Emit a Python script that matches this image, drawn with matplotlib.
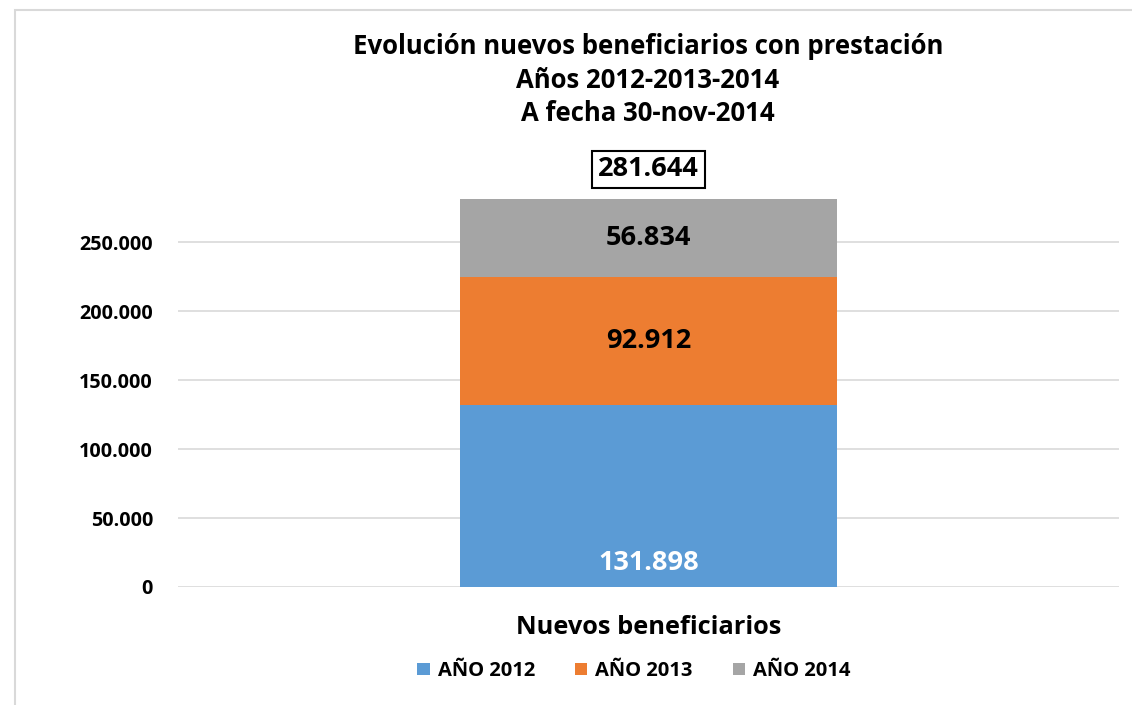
import matplotlib.pyplot as plt
from matplotlib.patches import Rectangle

category = "Nuevos beneficiarios"
series = ["AÑO 2012", "AÑO 2013", "AÑO 2014"]
values = [131898, 92912, 56834]
colors = ["#5B9BD5", "#ED7D31", "#A5A5A5"]
yticks = [0, 50000, 100000, 150000, 200000, 250000]

plt.rcParams['font.family'] = ['Open Sans', 'DejaVu Sans']

def fmt(v):
    return f"{v:,}".replace(",", ".")

W, H = 1132, 705
fig = plt.figure(figsize=(W / 100, H / 100), dpi=100)
ax = fig.add_axes([178 / W, 1 - 587 / H, (1119 - 178) / W, (587 - 194) / H])

# outer chart border (light grey)
fig.patches.append(Rectangle((15 / W, -0.1), 1.2, (1 - 10 / H) + 0.1,
                             transform=fig.transFigure, fill=False,
                             edgecolor="#D9D9D9", linewidth=1.5))

bottom = 0
for name, v, c in zip(series, values, colors):
    ax.bar([0], [v], bottom=bottom, width=0.4, color=c, label=name, zorder=3)
    bottom += v

ax.set_xlim(-0.5, 0.5)
ax.set_ylim(0, 285000)
ax.set_yticks(yticks)
ax.set_yticklabels([fmt(t) for t in yticks], fontsize=14.2, fontweight="bold")
ax.tick_params(axis="y", length=0, pad=18)
ax.set_xticks([0])
ax.set_xticklabels([category], fontsize=18.3, fontweight="bold")
ax.tick_params(axis="x", length=0, pad=20)
for s in ax.spines.values():
    s.set_visible(False)
ax.yaxis.grid(True, color="#D9D9D9", linewidth=1.2, zorder=0)
ax.set_axisbelow(True)

# data labels
ax.annotate(fmt(values[0]), (0, 0), xytext=(0, 8), textcoords="offset points",
            ha="center", va="bottom", fontsize=19.5, fontweight="bold", color="white")
cum = values[0]
for v in values[1:]:
    ax.text(0, cum + v / 2, fmt(v), ha="center", va="center",
            fontsize=19.5, fontweight="bold", color="black")
    cum += v

total = sum(values)
ax.annotate(fmt(total), (0, total), xytext=(0, 21), textcoords="offset points",
            ha="center", va="center", fontsize=19.5, fontweight="bold",
            annotation_clip=False,
            bbox=dict(boxstyle="square,pad=0.22", facecolor="white",
                      edgecolor="black", linewidth=1.5))

fig.text(648 / W, 1 - 80 / H,
         "Evolución nuevos beneficiarios con prestación\nAños 2012-2013-2014\nA fecha 30-nov-2014",
         ha="center", va="center", fontsize=18.5, fontweight="bold", linespacing=1.32)

fig.legend(loc="center", bbox_to_anchor=(634 / W, 1 - 671 / H), ncol=3,
           frameon=False, prop={"size": 14.5, "weight": "bold"},
           handlelength=0.6, handleheight=0.6, columnspacing=2.0,
           handletextpad=0.4)

fig.savefig("out.png", dpi=100)
